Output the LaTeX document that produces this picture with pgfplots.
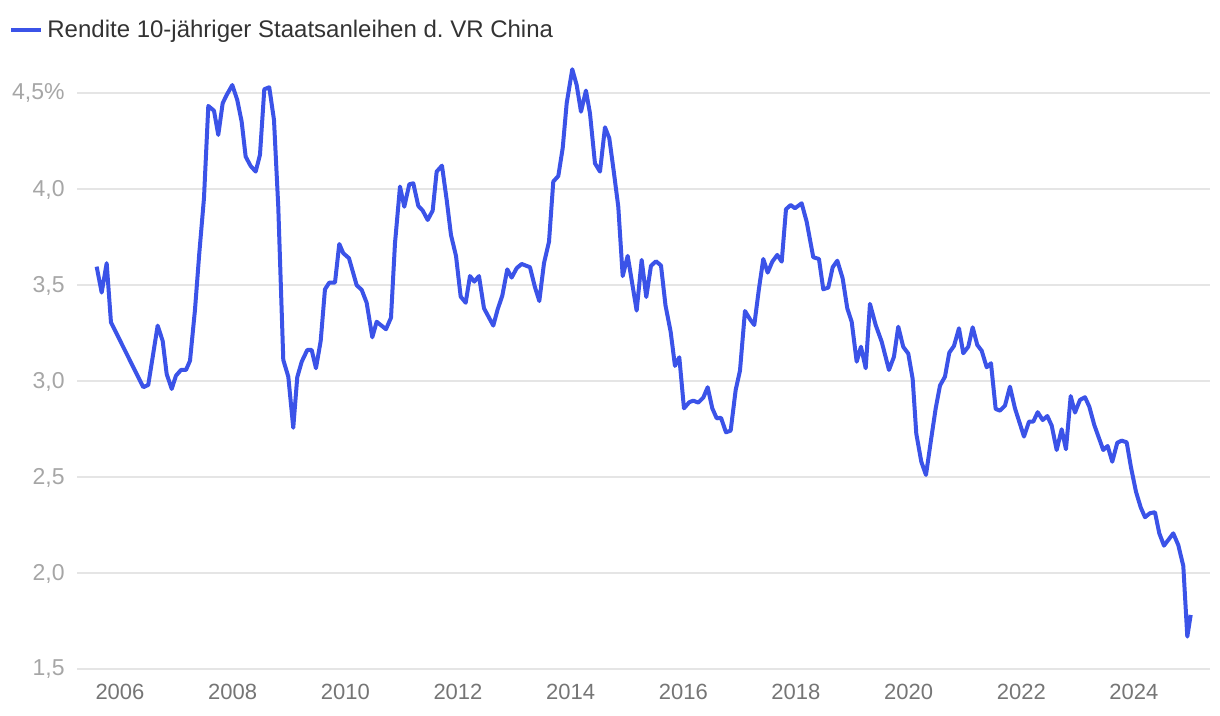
\documentclass[border=0pt]{standalone}
\usepackage{pgfplots}
\pgfplotsset{compat=1.18}
\usepackage{pgfplotstable}
\usepackage{fontspec}
\setmainfont{Liberation Sans}

\definecolor{lineblue}{RGB}{59,83,232}
\definecolor{gridgray}{RGB}{229,229,229}
\definecolor{ylab}{RGB}{166,166,166}
\definecolor{xlab}{RGB}{117,117,117}
\definecolor{legtext}{RGB}{51,51,51}

% Rendite 10-jaehriger Staatsanleihen, VR China (Jahr als Dezimalzahl, Prozent)
\pgfplotstableread{
x y
2005.586 3.598
2005.675 3.463
2005.764 3.616
2005.840 3.308
2006.414 2.970
2006.502 2.982
2006.669 3.291
2006.758 3.211
2006.829 3.039
2006.918 2.961
2006.994 3.030
2007.083 3.060
2007.172 3.060
2007.243 3.108
2007.331 3.372
2007.408 3.668
2007.491 3.954
2007.568 4.435
2007.669 4.410
2007.745 4.284
2007.823 4.449
2007.894 4.492
2007.994 4.544
2008.082 4.466
2008.160 4.353
2008.231 4.171
2008.320 4.122
2008.409 4.093
2008.485 4.180
2008.562 4.522
2008.650 4.532
2008.734 4.362
2008.810 3.910
2008.899 3.112
2008.988 3.025
2009.076 2.759
2009.147 3.022
2009.226 3.103
2009.325 3.164
2009.403 3.164
2009.479 3.069
2009.563 3.211
2009.639 3.480
2009.716 3.515
2009.817 3.515
2009.893 3.716
2009.964 3.668
2010.065 3.642
2010.202 3.501
2010.291 3.477
2010.379 3.410
2010.479 3.230
2010.557 3.311
2010.722 3.272
2010.811 3.332
2010.882 3.720
2010.971 4.015
2011.047 3.910
2011.136 4.027
2011.207 4.032
2011.296 3.914
2011.374 3.890
2011.462 3.841
2011.551 3.890
2011.622 4.093
2011.716 4.124
2011.800 3.945
2011.876 3.763
2011.965 3.654
2012.048 3.442
2012.137 3.410
2012.213 3.549
2012.290 3.520
2012.373 3.549
2012.462 3.381
2012.627 3.291
2012.705 3.376
2012.787 3.447
2012.875 3.584
2012.953 3.541
2013.042 3.590
2013.131 3.612
2013.278 3.595
2013.367 3.491
2013.444 3.419
2013.527 3.616
2013.616 3.728
2013.692 4.041
2013.781 4.070
2013.859 4.215
2013.930 4.449
2014.029 4.626
2014.107 4.544
2014.184 4.405
2014.272 4.515
2014.343 4.397
2014.432 4.136
2014.521 4.093
2014.610 4.324
2014.686 4.267
2014.770 4.084
2014.846 3.910
2014.924 3.549
2015.013 3.654
2015.172 3.369
2015.261 3.633
2015.343 3.440
2015.426 3.602
2015.515 3.626
2015.604 3.604
2015.684 3.396
2015.776 3.258
2015.852 3.081
2015.929 3.126
2016.012 2.860
2016.106 2.892
2016.177 2.900
2016.266 2.890
2016.355 2.916
2016.433 2.970
2016.515 2.860
2016.593 2.808
2016.669 2.811
2016.758 2.735
2016.841 2.744
2016.930 2.956
2017.006 3.056
2017.095 3.367
2017.184 3.324
2017.260 3.294
2017.344 3.485
2017.420 3.638
2017.498 3.567
2017.580 3.624
2017.668 3.659
2017.747 3.624
2017.823 3.897
2017.906 3.919
2017.982 3.902
2018.101 3.928
2018.190 3.832
2018.307 3.647
2018.408 3.638
2018.485 3.480
2018.574 3.489
2018.652 3.595
2018.734 3.629
2018.829 3.537
2018.911 3.381
2018.989 3.311
2019.078 3.103
2019.154 3.181
2019.238 3.069
2019.314 3.404
2019.415 3.294
2019.522 3.207
2019.651 3.060
2019.740 3.129
2019.816 3.285
2019.905 3.180
2019.994 3.145
2020.072 3.013
2020.136 2.728
2020.225 2.582
2020.308 2.513
2020.397 2.695
2020.480 2.859
2020.557 2.979
2020.645 3.025
2020.722 3.150
2020.805 3.185
2020.894 3.277
2020.970 3.147
2021.059 3.181
2021.137 3.282
2021.219 3.190
2021.297 3.160
2021.386 3.074
2021.462 3.095
2021.545 2.857
2021.622 2.848
2021.710 2.874
2021.799 2.973
2021.888 2.860
2022.048 2.713
2022.137 2.791
2022.213 2.791
2022.291 2.840
2022.380 2.799
2022.462 2.820
2022.540 2.770
2022.628 2.643
2022.717 2.751
2022.793 2.647
2022.877 2.924
2022.953 2.838
2023.042 2.904
2023.131 2.918
2023.207 2.869
2023.296 2.773
2023.455 2.643
2023.533 2.664
2023.615 2.582
2023.704 2.681
2023.782 2.692
2023.871 2.683
2023.947 2.553
2024.036 2.426
2024.119 2.345
2024.196 2.293
2024.284 2.314
2024.373 2.319
2024.450 2.209
2024.533 2.145
2024.698 2.209
2024.787 2.148
2024.876 2.039
2024.947 1.671
2025.007 1.784
}\yields

\begin{document}
\begin{tikzpicture}
\begin{axis}[
  at={(0,0)}, anchor=south west,
  scale only axis,
  width=566.5pt, height=303pt,
  xmin=2005.237, xmax=2025.35,
  ymin=1.5, ymax=4.656,
  axis line style={draw=none},
  major tick length=0pt,
  ymajorgrids,
  major grid style={color=gridgray, line width=1pt},
  xtick={2006,2008,...,2024},
  xticklabels={2006,2008,2010,2012,2014,2016,2018,2020,2022,2024},
  ytick={1.5,2,2.5,3,3.5,4,4.5},
  yticklabels={{1,5},{2,0},{2,5},{3,0},{3,5},{4,0},{4,5\%}},
  xticklabel style={font=\fontsize{11}{13}\selectfont, text=xlab, anchor=north, inner sep=0pt, yshift=-7pt},
  yticklabel style={font=\fontsize{11.5}{13}\selectfont, text=ylab, anchor=east, inner sep=0pt, xshift=-6pt},
  legend style={at={(axis description cs:-0.0600,1.0553)}, anchor=west,
    draw=none, fill=none, inner sep=0pt,
    font=\fontsize{12}{14}\selectfont, text=legtext,
    nodes={inner xsep=2pt, inner ysep=0pt}},
  legend image code/.code={\draw[#1] (0pt,0pt) -- (15pt,0pt);},
]
\addplot[color=lineblue, line width=2pt, line join=round] table[x=x, y=y] {\yields};
\addlegendentry{Rendite 10-jähriger Staatsanleihen d.\ VR China}
\end{axis}
\pgfresetboundingbox
\path[use as bounding box] (-38.5pt,-23.25pt) rectangle (571.5pt,334.75pt);
\end{tikzpicture}
\end{document}
